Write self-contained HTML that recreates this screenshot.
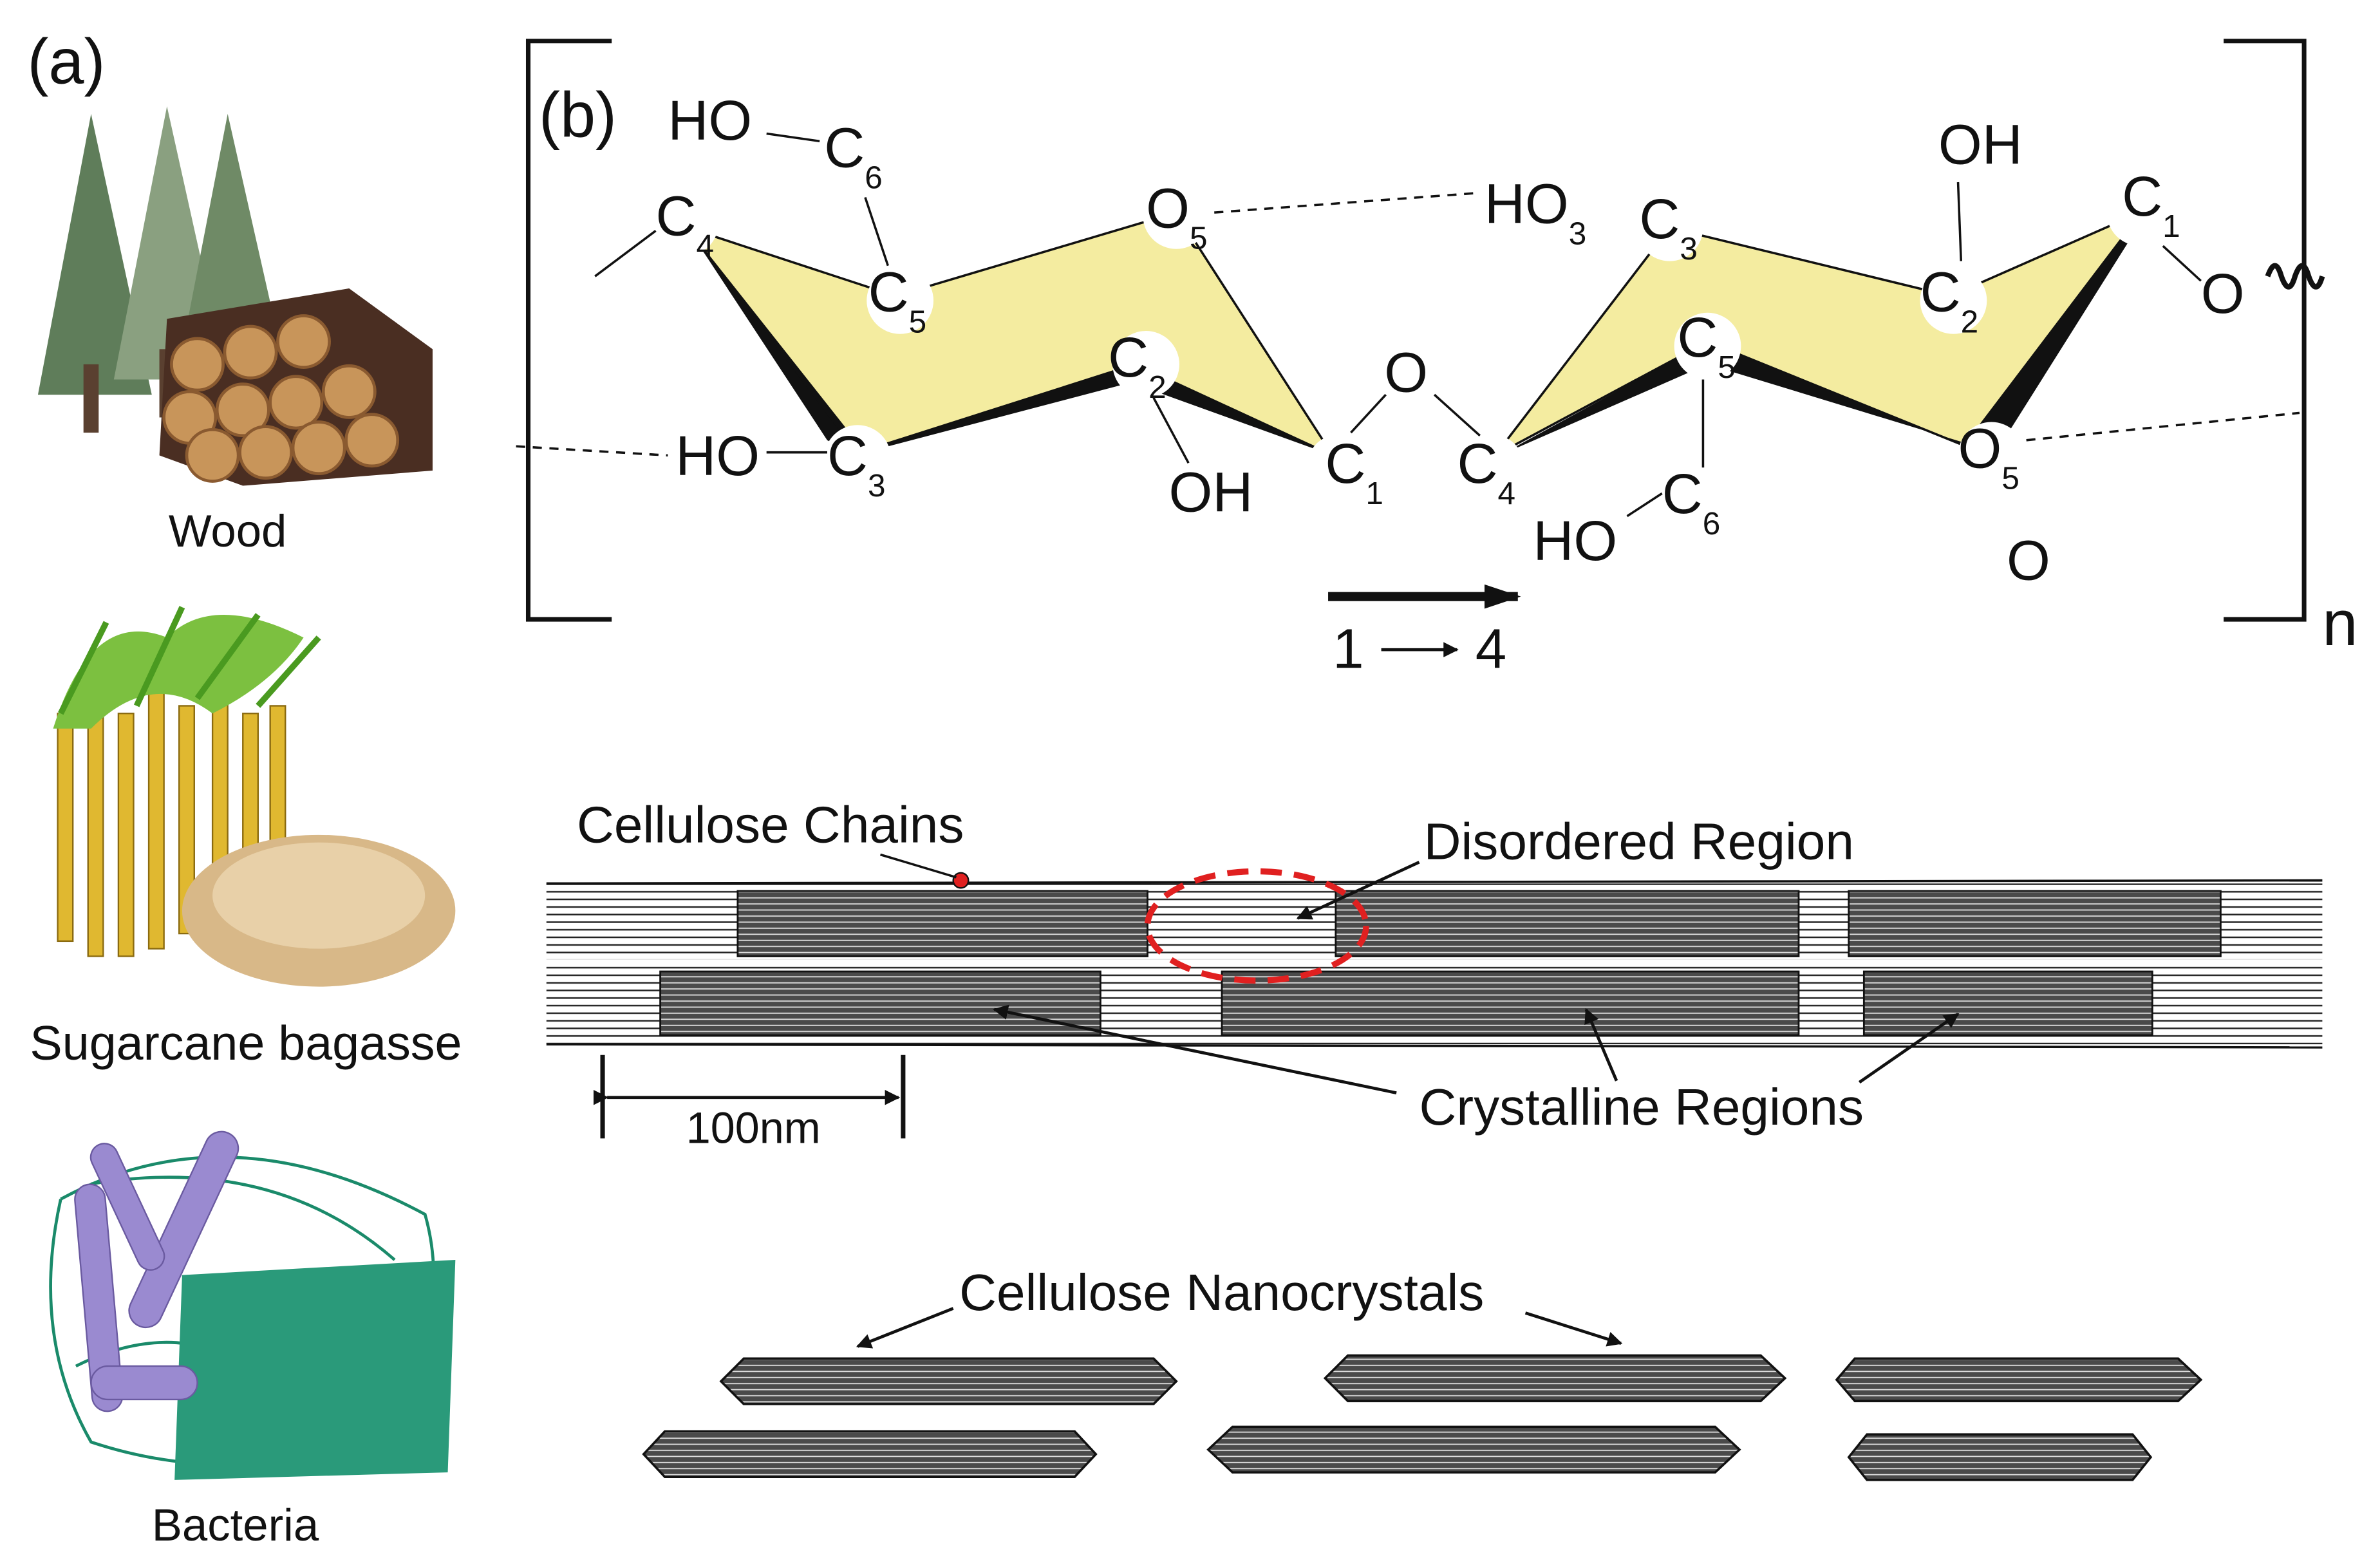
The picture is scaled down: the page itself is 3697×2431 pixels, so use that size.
<!DOCTYPE html>
<html><head><meta charset="utf-8"><style>
html,body{margin:0;padding:0;background:#fff;}
svg{display:block;}
text{font-family:"Liberation Sans",sans-serif;fill:#111;}
</style></head><body>
<svg width="3697" height="2431" viewBox="0 0 1568 1031" xmlns="http://www.w3.org/2000/svg">
<defs>
<pattern id="stripes" width="8" height="4" patternUnits="userSpaceOnUse">
<rect width="8" height="4" fill="#4a4a4a"/><line x1="0" y1="3.5" x2="8" y2="3.5" stroke="#ddd" stroke-width="0.8"/>
</pattern>
<pattern id="loose" width="8" height="5" patternUnits="userSpaceOnUse">
<rect width="8" height="5" fill="#fff"/><line x1="0" y1="2.5" x2="8" y2="2.5" stroke="#222" stroke-width="1"/>
</pattern>
<marker id="ah" markerWidth="10" markerHeight="10" refX="9" refY="5" orient="auto" markerUnits="userSpaceOnUse"><path d="M0,0 L10,5 L0,10 Z" fill="#111"/></marker>
<marker id="ahb" markerWidth="24" markerHeight="16" refX="22" refY="8" orient="auto" markerUnits="userSpaceOnUse"><path d="M0,0 L24,8 L0,16 Z" fill="#111"/></marker>
</defs>

<text x="18" y="55" font-size="42">(a)</text>
<g>
<polygon points="60,75 25,260 100,260" fill="#5f7d5a"/>
<polygon points="110,70 75,250 150,250" fill="#8aa080"/>
<polygon points="150,75 120,230 185,230" fill="#6f8a66"/>
<rect x="55" y="240" width="10" height="45" fill="#5a4030"/>
<rect x="105" y="230" width="10" height="45" fill="#5a4030"/>
</g>
<g>
<polygon points="110,210 230,190 285,230 285,310 160,320 105,300" fill="#4a2e22"/>
<g fill="#c8955a" stroke="#8a5a30" stroke-width="2">
<circle cx="130" cy="240" r="17"/><circle cx="165" cy="232" r="17"/><circle cx="200" cy="225" r="17"/>
<circle cx="125" cy="275" r="17"/><circle cx="160" cy="270" r="17"/><circle cx="195" cy="265" r="17"/><circle cx="230" cy="258" r="17"/>
<circle cx="140" cy="300" r="17"/><circle cx="175" cy="298" r="17"/><circle cx="210" cy="295" r="17"/><circle cx="245" cy="290" r="17"/>
</g>
</g>
<text x="150" y="360" font-size="30" text-anchor="middle">Wood</text>

<g>
<g fill="#e0b830" stroke="#8a6a10" stroke-width="1">
<rect x="38" y="470" width="10" height="150"/><rect x="58" y="460" width="10" height="170"/>
<rect x="78" y="470" width="10" height="160"/><rect x="98" y="455" width="10" height="170"/>
<rect x="118" y="465" width="10" height="150"/><rect x="140" y="460" width="10" height="150"/>
<rect x="160" y="470" width="10" height="140"/><rect x="178" y="465" width="10" height="140"/>
</g>
<path d="M35,480 Q60,400 110,420 Q140,390 200,420 Q180,450 140,470 Q100,440 60,480 Z" fill="#7cc040"/>
<path d="M40,470 L70,410 M90,465 L120,400 M130,460 L170,405 M170,465 L210,420" stroke="#4a9a20" stroke-width="4"/>
<ellipse cx="210" cy="600" rx="90" ry="50" fill="#d8b888"/>
<ellipse cx="210" cy="590" rx="70" ry="35" fill="#e8d0a8"/>
</g>
<text x="162" y="698" font-size="32" text-anchor="middle">Sugarcane bagasse</text>

<g>
<path d="M40,790 Q150,730 280,800 Q300,870 250,950 Q150,980 60,950 Q20,880 40,790" fill="none" stroke="#1a8a6a" stroke-width="2"/>
<path d="M60,780 Q180,760 260,830 M50,900 Q150,850 220,960" fill="none" stroke="#1a8a6a" stroke-width="2"/>
<polygon points="120,840 300,830 295,970 115,975" fill="#2a9a7a"/>
<g fill="#9a8ad0" stroke="#6a5aa0" stroke-width="1">
<rect x="55" y="780" width="20" height="150" rx="10" transform="rotate(-5 65 855)"/>
<rect x="110" y="740" width="22" height="140" rx="11" transform="rotate(25 121 810)"/>
<rect x="75" y="750" width="18" height="90" rx="9" transform="rotate(-25 84 795)"/>
<rect x="60" y="900" width="70" height="22" rx="11"/>
</g>
</g>
<text x="155" y="1015" font-size="30" text-anchor="middle">Bacteria</text>

<text x="355" y="90" font-size="42">(b)</text>
<path d="M403,27 L348,27 L348,408 L403,408" fill="none" stroke="#111" stroke-width="3"/>
<path d="M1465,27 L1518,27 L1518,408 L1465,408" fill="none" stroke="#111" stroke-width="3"/>
<text x="1530" y="425" font-size="42">n</text>

<polygon points="453,150 590,195 775,140 878,300 748,240 560,300" fill="#f4eca0" stroke="#111" stroke-width="1.5"/>
<polygon points="453,150 560,300 748,240 878,300 745,252 570,298" fill="#111"/>
<polygon points="453,150 545,290 565,300" fill="#111"/>
<polygon points="985,300 1100,150 1285,195 1410,140 1310,300 1125,225" fill="#f4eca0" stroke="#111" stroke-width="1.5"/>
<polygon points="1125,225 1310,300 1300,285 1410,140 1405,155 1315,298 1125,240 988,300" fill="#111"/>

<g fill="#fff">
<circle cx="453" cy="148" r="20"/><circle cx="593" cy="198" r="22"/><circle cx="775" cy="142" r="22"/>
<circle cx="755" cy="240" r="22"/><circle cx="565" cy="302" r="22"/><circle cx="880" cy="305" r="18"/>
<circle cx="1100" cy="150" r="22"/><circle cx="1287" cy="198" r="22"/><circle cx="1410" cy="140" r="22"/>
<circle cx="1125" cy="228" r="22"/><circle cx="1312" cy="300" r="22"/><circle cx="985" cy="305" r="18"/>
</g>
<g stroke="#111" stroke-width="1.5" fill="none">
<line x1="392" y1="182" x2="432" y2="152"/>
<line x1="505" y1="88" x2="540" y2="93"/>
<line x1="570" y1="130" x2="585" y2="175"/>
<line x1="505" y1="298" x2="545" y2="298"/>
<line x1="760" y1="262" x2="783" y2="305"/>
<line x1="890" y1="285" x2="913" y2="260"/>
<line x1="945" y1="260" x2="975" y2="287"/>
<line x1="1290" y1="120" x2="1292" y2="172"/>
<line x1="1425" y1="162" x2="1450" y2="185"/>
<line x1="1122" y1="250" x2="1122" y2="308"/>
<line x1="1072" y1="340" x2="1095" y2="325"/>
<path d="M1494,182 q5,-14 9,0 q5,14 9,0 q5,-14 9,0 q5,14 9,0" stroke-width="3.5"/>
</g>
<g stroke="#111" stroke-width="1.5" stroke-dasharray="6,5">
<line x1="800" y1="140" x2="975" y2="127"/>
<line x1="340" y1="294" x2="440" y2="300"/>
<line x1="1335" y1="290" x2="1515" y2="272"/>
</g>
<g font-size="37">
<text x="440" y="92">HO</text>
<text x="543" y="110">C<tspan font-size="21" dy="14">6</tspan></text>
<text x="432" y="155">C<tspan font-size="21" dy="14">4</tspan></text>
<text x="572" y="205">C<tspan font-size="21" dy="14">5</tspan></text>
<text x="755" y="150">O<tspan font-size="21" dy="14">5</tspan></text>
<text x="730" y="248">C<tspan font-size="21" dy="14">2</tspan></text>
<text x="445" y="313">HO</text>
<text x="545" y="313">C<tspan font-size="21" dy="14">3</tspan></text>
<text x="770" y="337">OH</text>
<text x="873" y="318">C<tspan font-size="21" dy="14">1</tspan></text>
<text x="912" y="258">O</text>
<text x="960" y="318">C<tspan font-size="21" dy="14">4</tspan></text>
<text x="978" y="147">HO<tspan font-size="21" dy="14">3</tspan></text>
<text x="1080" y="157">C<tspan font-size="21" dy="14">3</tspan></text>
<text x="1277" y="108">OH</text>
<text x="1265" y="205">C<tspan font-size="21" dy="14">2</tspan></text>
<text x="1398" y="142">C<tspan font-size="21" dy="14">1</tspan></text>
<text x="1450" y="206">O</text>
<text x="1105" y="235">C<tspan font-size="21" dy="14">5</tspan></text>
<text x="1290" y="308">O<tspan font-size="21" dy="14">5</tspan></text>
<text x="1095" y="338">C<tspan font-size="21" dy="14">6</tspan></text>
<text x="1010" y="369">HO</text>
<text x="1322" y="382">O</text>
</g>
<line x1="875" y1="393" x2="1000" y2="393" stroke="#111" stroke-width="6" marker-end="url(#ahb)"/>
<text x="878" y="440" font-size="37">1</text>
<line x1="910" y1="428" x2="960" y2="428" stroke="#111" stroke-width="2" marker-end="url(#ah)"/>
<text x="972" y="440" font-size="37">4</text>

<rect x="360" y="582" width="1170" height="50" fill="url(#loose)"/>
<rect x="360" y="636" width="1170" height="52" fill="url(#loose)"/>
<g stroke="#111" stroke-width="1.2">
<rect x="486" y="587" width="270" height="43" fill="url(#stripes)"/>
<rect x="880" y="587" width="305" height="43" fill="url(#stripes)"/>
<rect x="1218" y="587" width="245" height="43" fill="url(#stripes)"/>
<rect x="435" y="640" width="290" height="42" fill="url(#stripes)"/>
<rect x="805" y="640" width="380" height="42" fill="url(#stripes)"/>
<rect x="1228" y="640" width="190" height="42" fill="url(#stripes)"/>
</g>
<line x1="360" y1="582" x2="1530" y2="580" stroke="#111" stroke-width="1.5"/>
<line x1="360" y1="688" x2="1530" y2="690" stroke="#111" stroke-width="1.5"/>
<ellipse cx="828" cy="610" rx="72" ry="36" fill="none" stroke="#e02020" stroke-width="4" stroke-dasharray="14,8"/>
<circle cx="633" cy="580" r="5" fill="#e02020" stroke="#111"/>
<line x1="580" y1="563" x2="630" y2="578" stroke="#111" stroke-width="1.5"/>
<text x="380" y="555" font-size="34">Cellulose Chains</text>
<text x="938" y="566" font-size="34">Disordered Region</text>
<line x1="935" y1="568" x2="855" y2="605" stroke="#111" stroke-width="2" marker-end="url(#ah)"/>
<text x="935" y="741" font-size="34">Crystalline Regions</text>
<line x1="920" y1="720" x2="655" y2="665" stroke="#111" stroke-width="2" marker-end="url(#ah)"/>
<line x1="1065" y1="712" x2="1045" y2="665" stroke="#111" stroke-width="2" marker-end="url(#ah)"/>
<line x1="1225" y1="713" x2="1290" y2="668" stroke="#111" stroke-width="2" marker-end="url(#ah)"/>
<line x1="397" y1="695" x2="397" y2="750" stroke="#111" stroke-width="3"/>
<line x1="595" y1="695" x2="595" y2="750" stroke="#111" stroke-width="3"/>
<line x1="400" y1="723" x2="592" y2="723" stroke="#111" stroke-width="2" marker-start="url(#ah)" marker-end="url(#ah)"/>
<text x="452" y="753" font-size="29">100nm</text>

<text x="632" y="863" font-size="34">Cellulose Nanocrystals</text>
<line x1="628" y1="862" x2="565" y2="887" stroke="#111" stroke-width="2" marker-end="url(#ah)"/>
<line x1="1005" y1="865" x2="1068" y2="885" stroke="#111" stroke-width="2" marker-end="url(#ah)"/>
<g stroke="#111" stroke-width="1.5" fill="url(#stripes)">
<polygon points="490,895 760,895 775,910 760,925 490,925 475,910"/>
<polygon points="438,943 708,943 722,958 708,973 438,973 424,958"/>
<polygon points="888,893 1160,893 1176,908 1160,923 888,923 873,908"/>
<polygon points="812,940 1130,940 1146,955 1130,970 812,970 796,955"/>
<polygon points="1222,895 1435,895 1450,909 1435,923 1222,923 1210,909"/>
<polygon points="1230,945 1405,945 1417,960 1405,975 1230,975 1218,960"/>
</g>
</svg>
</body></html>
